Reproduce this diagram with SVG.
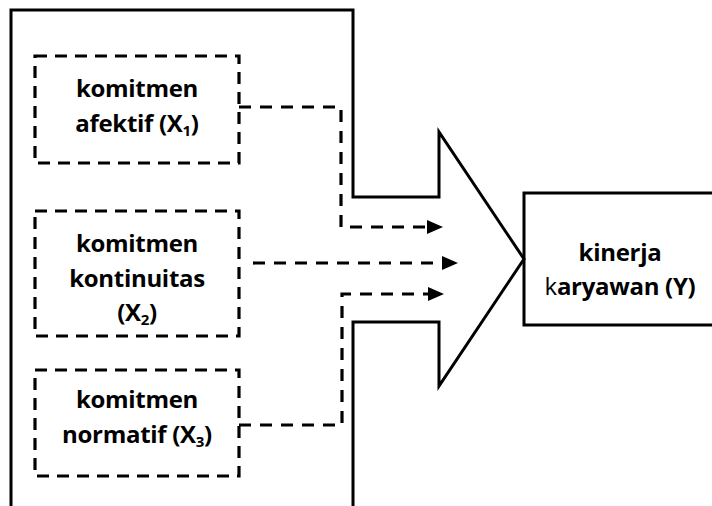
<svg xmlns="http://www.w3.org/2000/svg" width="712" height="506" viewBox="0 0 712 506">
<style>
.outline{fill:none;stroke:#000;stroke-width:3;stroke-linejoin:miter}
.dbox{fill:none;stroke:#000;stroke-width:3.2;stroke-dasharray:12 8}
.conn{fill:none;stroke:#000;stroke-width:3.2;stroke-dasharray:12 9}
text{font-family:"Open Sans","Liberation Sans",sans-serif;font-weight:bold;font-size:24px;letter-spacing:-0.3px;fill:#000;text-anchor:middle}
.sub{font-size:15px}
</style>
<defs>
<marker id="ah" markerUnits="userSpaceOnUse" markerWidth="16" markerHeight="14" refX="11" refY="7" orient="auto">
<path d="M0,0 L16,7 L0,14 z" fill="#000"/>
</marker>
</defs>
<rect width="712" height="506" fill="#fff"/>
<g id="frame">
<path class="outline" d="M11,512 V10 H353 V197 H439 V132 L524,259 L439,386 V322 H353 V512"/>
</g>
<g id="x1">
<rect class="dbox" x="35" y="56" width="204" height="107"/>
<text x="137" y="97">komitmen</text>
<text x="137" y="132">afektif (X<tspan class="sub" dy="4">1</tspan><tspan dy="-4">)</tspan></text>
</g>
<g id="x2">
<rect class="dbox" x="35" y="211" width="204" height="125"/>
<text x="137" y="252">komitmen</text>
<text x="137" y="287">kontinuitas</text>
<text x="137" y="321">(X<tspan class="sub" dy="4">2</tspan><tspan dy="-4">)</tspan></text>
</g>
<g id="x3">
<rect class="dbox" x="35" y="370" width="204" height="106"/>
<text x="137" y="408">komitmen</text>
<text x="137" y="443">normatif (X<tspan class="sub" dy="4">3</tspan><tspan dy="-4">)</tspan></text>
</g>
<g id="y">
<rect class="outline" x="524" y="193" width="200" height="132"/>
<text x="620" y="261">kinerja</text>
<text x="620" y="295"><tspan font-weight="normal">k</tspan>aryawan (Y)</text>
</g>
<g id="connectors">
<path class="conn" d="M239,107 H341 V227 H438" marker-end="url(#ah)"/>
<path class="conn" d="M253,263 H453" marker-end="url(#ah)"/>
<path class="conn" d="M239,425 H342 V294 H439" marker-end="url(#ah)"/>
</g>
</svg>
